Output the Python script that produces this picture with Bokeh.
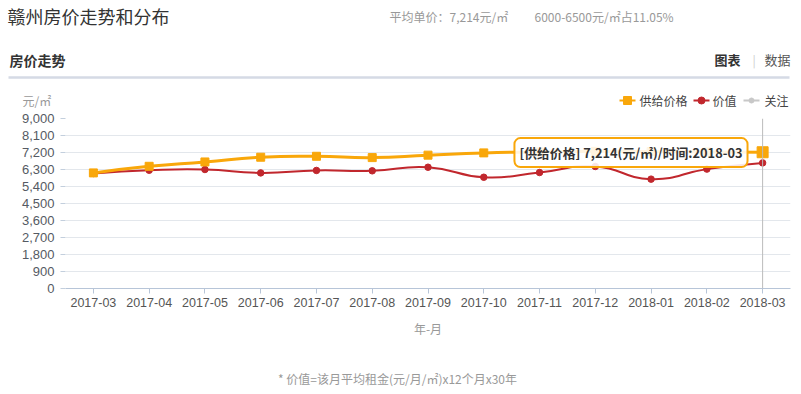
import numpy as np
from bokeh.plotting import figure
from bokeh.layouts import column
from bokeh.models import (Range1d, FixedTicker, NumeralTickFormatter, Span, Label)
from bokeh.core.properties import value
from bokeh.embed import file_html
from bokeh.resources import INLINE

# ---------------- data ----------------
months = ["2017-03", "2017-04", "2017-05", "2017-06", "2017-07", "2017-08", "2017-09",
          "2017-10", "2017-11", "2017-12", "2018-01", "2018-02", "2018-03"]
supply_price = [6120, 6470, 6700, 6950, 7000, 6930, 7060, 7180, 7230, 7260, 7250, 7230, 7214]
value_price = [6090, 6260, 6300, 6120, 6250, 6230, 6420, 5890, 6140, 6460, 5790, 6320, 6650]
y_ticks = [0, 900, 1800, 2700, 3600, 4500, 5400, 6300, 7200, 8100, 9000]
series_names = ["供给价格", "价值", "关注"]
avg_price = 7214
band_label = "6000-6500元/㎡占11.05%"

ORANGE = "#f9a70a"
RED = "#c1272d"
GRAY = "#c8c8c8"
CJK = "Noto Sans CJK SC"
LAT = "Liberation Sans"
W = 801

# page geometry of the plotting frame
FL, FR, FT, FB = 65, 790, 118, 288
HDR_H = 110
MAIN_BOTTOM = 346
PAGE_H = 394


def bare(fig):
    fig.xaxis.visible = False
    fig.yaxis.visible = False
    fig.xgrid.visible = False
    fig.ygrid.visible = False
    fig.outline_line_color = None
    fig.min_border = 0
    fig.min_border_left = 0
    fig.min_border_right = 0
    fig.min_border_top = 0
    fig.min_border_bottom = 0
    return fig


def htext(fig, x, y, t, size, color, style="normal", font=CJK, align="left"):
    fig.text(x=[x], y=[y], text=[t], text_font=value(font), text_font_size=value(size),
             text_color=color, text_font_style=style, text_baseline="middle", text_align=align)


# ---------------- header (page y 0..110) ----------------
hdr = figure(width=W, height=HDR_H, output_backend="svg", toolbar_location=None, tools="",
             x_range=Range1d(0, W), y_range=Range1d(HDR_H, 0), frame_align=False)
bare(hdr)

htext(hdr, 7, 15, "赣州房价走势和分布", "18px", "#333333")
htext(hdr, 389, 16, f"平均单价：{avg_price:,}元/㎡", "12px", "#999999")
htext(hdr, 534, 16, band_label, "12px", "#999999")
htext(hdr, 9, 59, "房价走势", "14px", "#333333", style="bold")
htext(hdr, 714, 59, "图表", "13px", "#333333", style="bold")
htext(hdr, 752, 59, "|", "12px", "#cccccc")
htext(hdr, 764, 59, "数据", "13px", "#555555")
hdr.segment(x0=[8], y0=[77], x1=[789], y1=[77], line_color="#d5dae5", line_width=2.5)
htext(hdr, 22, 100, "元/㎡", "12px", "#999999")

# legend
leg_x = [619, 693, 743]
leg_tx = [639, 712, 764]
leg_col = [ORANGE, RED, GRAY]
leg_mk = ["square", "circle", "circle"]
leg_sz = [8, 7, 5]
for lx, tx, c, mk, sz, name in zip(leg_x, leg_tx, leg_col, leg_mk, leg_sz, series_names):
    hdr.segment(x0=[lx], y0=[100], x1=[lx + 16], y1=[100], line_color=c, line_width=2)
    hdr.scatter(x=[lx + 8], y=[100], marker=mk, size=sz, fill_color=c, line_color=c)
    htext(hdr, tx, 100, name, "12px", "#444444")

# ---------------- main chart (page y 110..346) ----------------
NCAT = len(months)
YMAX = 9000
PX_X = (FR - FL) / NCAT
PX_Y = (FB - FT) / YMAX

p = figure(width=W, height=MAIN_BOTTOM - HDR_H, output_backend="svg", toolbar_location=None,
           tools="", x_range=Range1d(-0.5, NCAT - 0.5), y_range=Range1d(0, YMAX),
           min_border_left=FL, min_border_right=W - FR, min_border_top=FT - HDR_H,
           min_border_bottom=MAIN_BOTTOM - FB, frame_align=False)
p.outline_line_color = None
p.xgrid.visible = False
p.ygrid.grid_line_color = "#e3e7ec"
p.ygrid.ticker = FixedTicker(ticks=y_ticks)

xi = list(range(NCAT))
p.xaxis.ticker = FixedTicker(ticks=xi)
p.xaxis.major_label_overrides = {i: m for i, m in enumerate(months)}
p.xaxis.axis_line_color = "#b7c5d8"
p.xaxis.major_tick_line_color = "#b7c5d8"
p.xaxis.major_tick_out = 5
p.xaxis.major_tick_in = 0
p.xaxis.minor_tick_line_color = None
p.xaxis.major_label_text_font = LAT
p.xaxis.major_label_text_font_size = "12.5px"
p.xaxis.major_label_text_color = "#555555"
p.xaxis.major_label_standoff = 4
p.xaxis.axis_label = "年-月"
p.xaxis.axis_label_text_font = CJK
p.xaxis.axis_label_text_font_style = "normal"
p.xaxis.axis_label_text_font_size = "12px"
p.xaxis.axis_label_text_color = "#999999"
p.xaxis.axis_label_standoff = 10

p.yaxis.ticker = FixedTicker(ticks=y_ticks)
p.yaxis.formatter = NumeralTickFormatter(format="0,0")
p.yaxis.axis_line_color = None
p.yaxis.major_tick_line_color = "#c3cfdd"
p.yaxis.major_tick_out = 5
p.yaxis.major_tick_in = 0
p.yaxis.minor_tick_line_color = None
p.yaxis.major_label_text_font = LAT
p.yaxis.major_label_text_font_size = "13px"
p.yaxis.major_label_text_color = "#555a63"
p.yaxis.major_label_standoff = 6

# cursor line at last month
p.add_layout(Span(location=NCAT - 1, dimension="height", line_color="#bbbbbb", line_width=1))


def smooth(ys, s=0.5):
    x = np.arange(len(ys), dtype=float)
    y = np.asarray(ys, dtype=float)
    n = len(y)
    cin = np.zeros((n, 2))
    cout = np.zeros((n, 2))
    for i in range(n):
        if i == 0 or i == n - 1:
            cin[i] = cout[i] = (x[i], y[i])
            continue
        vx = (x[i + 1] - x[i - 1]) * s
        vy = (y[i + 1] - y[i - 1]) * s
        d0 = np.hypot((x[i] - x[i - 1]) * PX_X, (y[i] - y[i - 1]) * PX_Y)
        d1 = np.hypot((x[i + 1] - x[i]) * PX_X, (y[i + 1] - y[i]) * PX_Y)
        t = d0 + d1
        d0, d1 = d0 / t, d1 / t
        cin[i] = (x[i] - vx * d0, y[i] - vy * d0)
        cout[i] = (x[i] + vx * d1, y[i] + vy * d1)
    return dict(x0=x[:-1], y0=y[:-1], x1=x[1:], y1=y[1:],
                cx0=cout[:-1, 0], cy0=cout[:-1, 1], cx1=cin[1:, 0], cy1=cin[1:, 1])


p.bezier(**smooth(value_price), line_color=RED, line_width=2)
p.scatter(x=xi, y=value_price, marker="circle", size=6.5, fill_color=RED, line_color=RED)
p.bezier(**smooth(supply_price), line_color=ORANGE, line_width=3)
p.scatter(x=xi[:-1], y=supply_price[:-1], marker="square", size=8, fill_color=ORANGE, line_color=ORANGE)
p.scatter(x=xi[-1:], y=supply_price[-1:], marker="square", size=11, fill_color=ORANGE, line_color=ORANGE)

tip = Label(x=7.55, y=supply_price[-1] - 20, x_units="data", y_units="data",
            text=f"[{series_names[0]}] {supply_price[-1]:,}(元/㎡)/时间:{months[-1]}",
            text_font=CJK, text_font_size="12.8px", text_font_style="bold", text_color="#333333",
            text_baseline="middle", text_align="left",
            background_fill_color="white", background_fill_alpha=0.88,
            border_line_color=ORANGE, border_line_width=2, border_radius=6, padding=5)
p.add_layout(tip)

# ---------------- footer (page y 346..394) ----------------
ftr = figure(width=W, height=PAGE_H - MAIN_BOTTOM, output_backend="svg", toolbar_location=None,
             tools="", x_range=Range1d(0, W), y_range=Range1d(PAGE_H, MAIN_BOTTOM), frame_align=False)
bare(ftr)
htext(ftr, 397, 378, "* 价值=该月平均租金(元/月/㎡)x12个月x30年", "12px", "#999999", align="center")

layout = column(hdr, p, ftr, spacing=0)
open("out.html", "w").write(file_html(layout, INLINE))
